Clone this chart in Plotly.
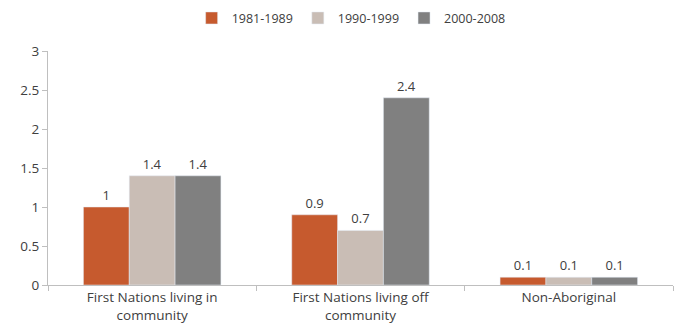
import plotly.graph_objects as go

categories = ["First Nations living in<br>community", "First Nations living off<br>community", "Non-Aboriginal"]
series_names = ["1981-1989", "1990-1999", "2000-2008"]
s1981 = [1, 0.9, 0.1]
s1990 = [1.4, 0.7, 0.1]
s2000 = [1.4, 2.4, 0.1]
colors = ["#C65A2E", "#C9BDB5", "#808080"]
y_ticks = [0, 0.5, 1, 1.5, 2, 2.5, 3]

fig = go.Figure()
for name, vals, col in zip(series_names, [s1981, s1990, s2000], colors):
    fig.add_trace(go.Bar(
        x=categories, y=vals, name=name, marker_color=col,
        text=[f"{v:g}" for v in vals], textposition="outside",
        textfont=dict(color="#404040", size=13), cliponaxis=False,
    ))

fig.update_layout(
    width=681, height=333,
    margin=dict(l=48, r=8, t=51, b=48),
    paper_bgcolor="white", plot_bgcolor="white",
    font=dict(family="Open Sans, Liberation Sans, sans-serif", size=13, color="#404040"),
    barmode="group", bargap=0.34, bargroupgap=0,
    showlegend=True,
    legend=dict(orientation="h", x=0.485, xanchor="center", y=0.99, yanchor="top",
                yref="container", font=dict(size=12.5), itemwidth=30,
                traceorder="normal", tracegroupgap=0),
    xaxis=dict(showline=True, linecolor="#BFBFBF", ticks="outside", tickcolor="#BFBFBF",
               ticklen=5, tickson="boundaries", showgrid=False,
               tickfont=dict(size=13.5)),
    yaxis=dict(range=[0, 3], tickvals=y_ticks, ticktext=[f"{v:g}" for v in y_ticks],
               showline=True, linecolor="#BFBFBF", ticks="outside", tickcolor="#BFBFBF",
               ticklen=5, showgrid=False, zeroline=False, tickfont=dict(size=13.5)),
)
fig.write_html("out.html")
